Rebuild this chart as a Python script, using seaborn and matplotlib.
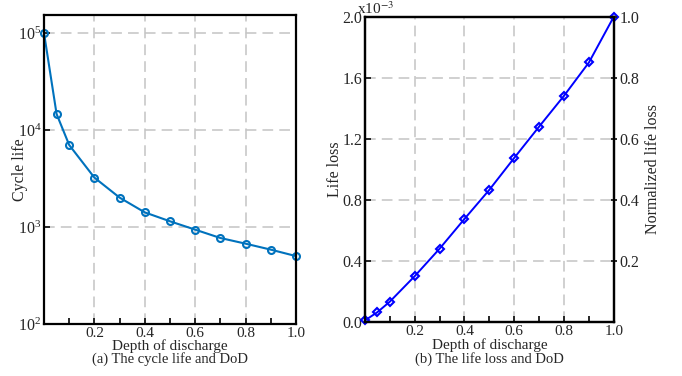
import numpy as np
import pandas as pd
import matplotlib
matplotlib.use("Agg")
import matplotlib.pyplot as plt
from matplotlib.ticker import MultipleLocator, FixedLocator, LogLocator, NullLocator, LogFormatterMathtext
import seaborn as sns

# depth of discharge points
dod = [0.0, 0.05, 0.1, 0.2, 0.3, 0.4, 0.5, 0.6, 0.7, 0.8, 0.9, 1.0]
# cycle life, log scale
cycle_life = [100000, 14600, 7000, 3230, 2010, 1416, 1146, 940, 771, 674, 585, 502]
# life loss, in units of 1e-3
life_loss = [0.01, 0.064, 0.133, 0.30, 0.48, 0.675, 0.866, 1.075, 1.28, 1.482, 1.70, 2.0]

x_ticks = [0.2, 0.4, 0.6, 0.8, 1.0]
loss_ticks = [0.0, 0.4, 0.8, 1.2, 1.6, 2.0]
norm_ticks = [0.2, 0.4, 0.6, 0.8, 1.0]

df = pd.DataFrame({"dod": dod, "cycle_life": cycle_life, "life_loss": life_loss})

sns.set_style("ticks")
plt.rcParams["font.family"] = ["Liberation Serif", "DejaVu Serif"]
plt.rcParams["mathtext.fontset"] = "stix"
plt.rcParams["axes.linewidth"] = 1.6

fig = plt.figure(figsize=(6.82, 3.76), dpi=100)
ax1 = fig.add_axes([0.0645, 0.138, 0.3695, 0.821])
ax2 = fig.add_axes([0.535, 0.1436, 0.365, 0.812])

grid_kw = dict(color="#c4c4c4", linestyle=(0, (7, 4)), linewidth=1.1)

# (a) cycle life vs DoD
sns.lineplot(data=df, x="dod", y="cycle_life", ax=ax1, color="#0072BD", linewidth=1.5,
             marker="o", markersize=5, markerfacecolor="none", markeredgecolor="#0072BD",
             markeredgewidth=1.5, clip_on=False)
ax1.set_yscale("log")
ax1.set_xlim(0, 1)
ax1.set_ylim(100, 10 ** 5.18)
ax1.yaxis.set_major_locator(LogLocator(base=10, numticks=10))
ax1.yaxis.set_major_formatter(LogFormatterMathtext())
ax1.yaxis.set_minor_locator(NullLocator())
ax1.xaxis.set_major_locator(FixedLocator(x_ticks))
ax1.xaxis.set_minor_locator(MultipleLocator(0.1))
ax1.set_xticklabels(["0.2", "0.4", "0.6", "0.8", "1.0"])
ax1.grid(True, which="major", **grid_kw)
ax1.set_axisbelow(True)
ax1.tick_params(axis="both", which="both", direction="in", length=4, width=1.4,
                labelsize=11.5, pad=2)
ax1.tick_params(axis="x", labelsize=11)
ax1.set_xlabel("Depth of discharge", fontsize=11)
ax1.xaxis.set_label_coords(0.5, -0.048)
ax1.set_ylabel("Cycle life", fontsize=11.5)
ax1.yaxis.set_label_coords(-0.065, 0.5)
for s in ax1.spines.values():
    s.set_visible(True)
    s.set_color("black")

# (b) life loss vs DoD
sns.lineplot(data=df, x="dod", y="life_loss", ax=ax2, color="#0000FF", linewidth=1.4,
             marker="D", markersize=4.5, markerfacecolor="none", markeredgecolor="#0000FF",
             markeredgewidth=1.5, clip_on=False)
ax2.set_xlim(0, 1)
ax2.set_ylim(0, 2.0)
ax2.yaxis.set_major_locator(FixedLocator(loss_ticks))
ax2.set_yticklabels([f"{v:.1f}" for v in loss_ticks])
ax2.xaxis.set_major_locator(FixedLocator(x_ticks))
ax2.xaxis.set_minor_locator(MultipleLocator(0.1))
ax2.set_xticklabels(["0.2", "0.4", "0.6", "0.8", "1.0"])
ax2.grid(True, which="major", **grid_kw)
ax2.set_axisbelow(True)
ax2.tick_params(axis="both", which="both", direction="in", length=4, width=1.4,
                labelsize=11.5, pad=2)
ax2.tick_params(axis="x", labelsize=11)
ax2.set_xlabel("Depth of discharge", fontsize=11)
ax2.xaxis.set_label_coords(0.5, -0.053)
ax2.set_ylabel("Life loss", fontsize=11.5)
ax2.yaxis.set_label_coords(-0.088, 0.5)
ax2.text(-0.03, 1.0, r"x10$^{-3}$", transform=ax2.transAxes, fontsize=11,
         ha="left", va="bottom")
for s in ax2.spines.values():
    s.set_visible(True)
    s.set_color("black")

ax3 = ax2.twinx()
ax3.set_ylim(0, 1.0)
ax3.yaxis.set_major_locator(FixedLocator(norm_ticks))
ax3.set_yticklabels([f"{v:.1f}" for v in norm_ticks])
ax3.tick_params(axis="y", direction="inout", length=4, width=1.4, labelsize=11.5, pad=2)
ax3.set_ylabel("Normalized life loss", fontsize=11.5)
ax3.yaxis.set_label_coords(1.124, 0.5)
for s in ax3.spines.values():
    s.set_visible(True)
    s.set_color("black")

fig.text(0.064 + 0.3695 / 2, 0.045, "(a) The cycle life and DoD", ha="center", va="center",
         fontsize=10.5)
fig.text(0.535 + 0.365 / 2, 0.045, "(b) The life loss and DoD", ha="center", va="center",
         fontsize=10.5)

fig.savefig("out.png", dpi=100)
